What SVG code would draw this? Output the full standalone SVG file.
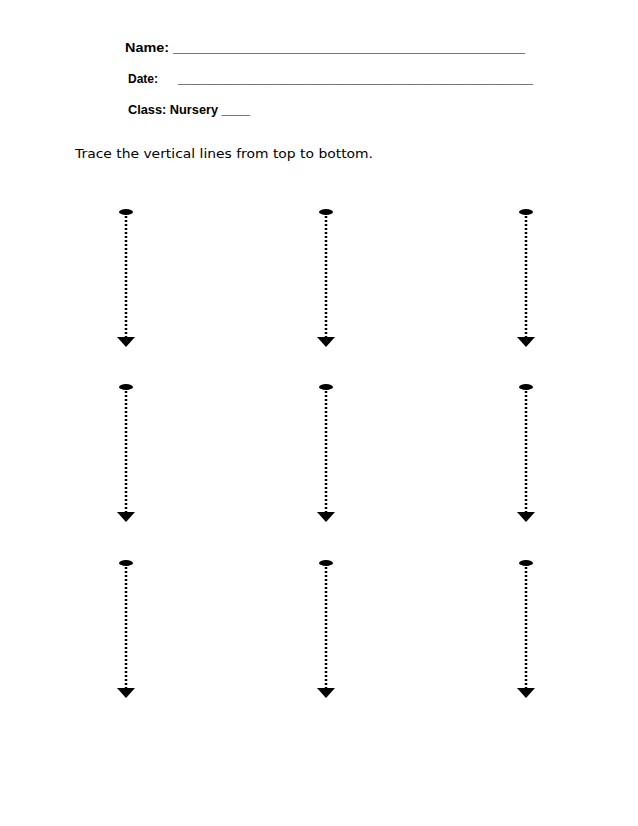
<svg xmlns="http://www.w3.org/2000/svg" width="638" height="826" viewBox="0 0 638 826">
<style>
.h{font-family:"Liberation Sans",sans-serif;font-weight:bold;font-size:12px;fill:#000}
.t{font-family:"DejaVu Sans",sans-serif;font-size:13px;fill:#000}
.d{stroke:#000;stroke-width:2.5;stroke-dasharray:2 2}
</style>
<defs>
<g id="arr">
<ellipse cx="0" cy="0" rx="7" ry="3" fill="#000"/>
<line class="d" x1="0" y1="4" x2="0" y2="336"/>
</g>
</defs>
<rect width="638" height="826" fill="#fff"/>
<g id="header">
<text class="h" x="125" y="52" textLength="400" lengthAdjust="spacingAndGlyphs">Name: ____________________________________________</text>
<text class="h" x="128" y="83">Date:</text>
<text class="h" x="178" y="83" textLength="355" lengthAdjust="spacingAndGlyphs">________________________________________</text>
<text class="h" x="128" y="114" textLength="122" lengthAdjust="spacingAndGlyphs">Class: Nursery ____</text>
<text class="t" x="75" y="158" textLength="298" lengthAdjust="spacingAndGlyphs">Trace the vertical lines from top to bottom.</text>
</g>
<g id="connectors">
<g id="a1"><ellipse cx="126" cy="212" rx="7" ry="3"/><line class="d" x1="126" y1="216" x2="126" y2="338"/><polygon points="117,337 135,337 126,347"/></g>
<g id="a2"><ellipse cx="326" cy="212" rx="7" ry="3"/><line class="d" x1="326" y1="216" x2="326" y2="338"/><polygon points="317,337 335,337 326,347"/></g>
<g id="a3"><ellipse cx="526" cy="212" rx="7" ry="3"/><line class="d" x1="526" y1="216" x2="526" y2="338"/><polygon points="517,337 535,337 526,347"/></g>
<g id="a4"><ellipse cx="126" cy="387" rx="7" ry="3"/><line class="d" x1="126" y1="391" x2="126" y2="513"/><polygon points="117,512 135,512 126,522"/></g>
<g id="a5"><ellipse cx="326" cy="387" rx="7" ry="3"/><line class="d" x1="326" y1="391" x2="326" y2="513"/><polygon points="317,512 335,512 326,522"/></g>
<g id="a6"><ellipse cx="526" cy="387" rx="7" ry="3"/><line class="d" x1="526" y1="391" x2="526" y2="513"/><polygon points="517,512 535,512 526,522"/></g>
<g id="a7"><ellipse cx="126" cy="563" rx="7" ry="3"/><line class="d" x1="126" y1="567" x2="126" y2="689"/><polygon points="117,688 135,688 126,698"/></g>
<g id="a8"><ellipse cx="326" cy="563" rx="7" ry="3"/><line class="d" x1="326" y1="567" x2="326" y2="689"/><polygon points="317,688 335,688 326,698"/></g>
<g id="a9"><ellipse cx="526" cy="563" rx="7" ry="3"/><line class="d" x1="526" y1="567" x2="526" y2="689"/><polygon points="517,688 535,688 526,698"/></g>
</g>
</svg>
